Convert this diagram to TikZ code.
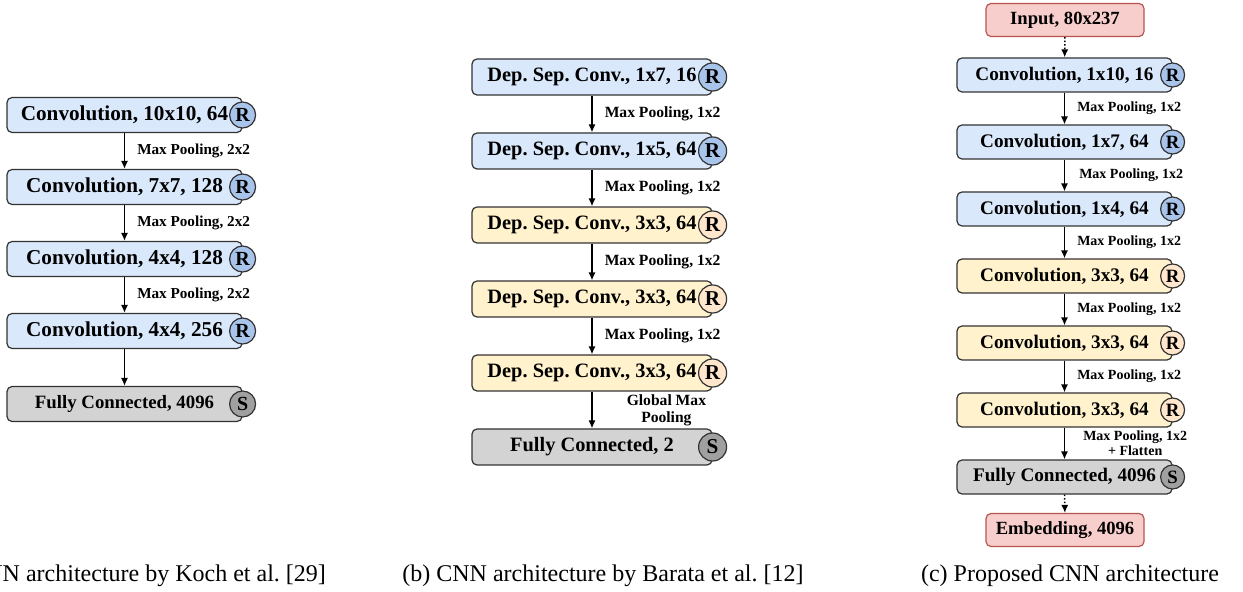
\documentclass[tikz,border=0pt]{standalone}
\usepackage{fontspec}
\setmainfont{Liberation Serif}
\usetikzlibrary{arrows.meta}
\definecolor{convblue}{HTML}{DAE8FC}
\definecolor{relublue}{HTML}{A9C4EB}
\definecolor{dsyellow}{HTML}{FFF2CC}
\definecolor{relucream}{HTML}{FFE6CC}
\definecolor{fcgray}{HTML}{D3D3D3}
\definecolor{softgray}{HTML}{A0A0A0}
\definecolor{iored}{HTML}{F8CECC}
\definecolor{ioline}{HTML}{B85450}

\begin{document}
\frenchspacing
\begin{tikzpicture}[x=0.5pt,y=-0.5pt,
  layer/.style={draw=black!80,line width=0.6pt,rounded corners=2.5pt,minimum height=17.5pt,inner sep=0pt},
  badge/.style={circle,draw=black!80,line width=0.6pt,minimum size=13pt,inner sep=0pt,font=\fontsize{10}{10}\selectfont\bfseries},
  pool/.style={inner sep=0pt},
  flow/.style={line width=0.75pt,-{Latex[length=4pt,width=3.6pt]}}]
\useasboundingbox (0,0) rectangle (1243,592);
% (a) Koch et al.
\begin{scope}[layer/.append style={minimum width=117.5pt,font=\fontsize{10.6}{11}\selectfont\bfseries},
  pool/.append style={font=\fontsize{7.6}{8}\selectfont\bfseries}]
\node[layer,fill=convblue] (a1) at (124.5,115) {Convolution, 10x10, 64\hspace{2pt}};
\node[layer,fill=convblue] (a2) at (124.5,187) {Convolution, 7x7, 128\hspace{8pt}};
\node[layer,fill=convblue] (a3) at (124.5,259) {Convolution, 4x4, 128\hspace{8pt}};
\node[layer,fill=convblue] (a4) at (124.5,331) {Convolution, 4x4, 256\hspace{8pt}};
\node[layer,fill=fcgray,font=\fontsize{9.4}{10}\selectfont\bfseries] (a5) at (124.5,404) {Fully Connected, 4096\hspace{8pt}};
\node[badge,fill=relublue] (a1r) at (a1.east) {R};
\node[badge,fill=relublue] (a2r) at (a2.east) {R};
\node[badge,fill=relublue] (a3r) at (a3.east) {R};
\node[badge,fill=relublue] (a4r) at (a4.east) {R};
\node[badge,fill=softgray] (a5s) at (a5.east) {S};
\draw[flow] (a1) -- (a2) node[pool,midway,right=6pt]{Max Pooling, 2x2};
\draw[flow] (a2) -- (a3) node[pool,midway,right=6pt]{Max Pooling, 2x2};
\draw[flow] (a3) -- (a4) node[pool,midway,right=6pt]{Max Pooling, 2x2};
\draw[flow] (a4) -- (a5);
\node[anchor=east,font=\fontsize{12}{14}\selectfont] (acap) at (333,576) {(a) CNN architecture by Koch et al. [29]};
\end{scope}
% (b) Barata et al.
\begin{scope}[layer/.append style={minimum width=120pt,minimum height=18pt,font=\fontsize{10.2}{11}\selectfont\bfseries},
  badge/.append style={minimum size=14pt,font=\fontsize{10.6}{11}\selectfont\bfseries},
  pool/.append style={font=\fontsize{7.8}{8.5}\selectfont\bfseries}]
\node[layer,fill=convblue] (b1) at (592,77) {Dep. Sep. Conv., 1x7, 16\hspace{5pt}};
\node[layer,fill=convblue] (b2) at (592,151) {Dep. Sep. Conv., 1x5, 64\hspace{5pt}};
\node[layer,fill=dsyellow] (b3) at (592,225) {Dep. Sep. Conv., 3x3, 64\hspace{5pt}};
\node[layer,fill=dsyellow] (b4) at (592,299) {Dep. Sep. Conv., 3x3, 64\hspace{5pt}};
\node[layer,fill=dsyellow] (b5) at (592,373) {Dep. Sep. Conv., 3x3, 64\hspace{5pt}};
\node[layer,fill=fcgray] (b6) at (592,447) {Fully Connected, 2\hspace{8pt}};
\node[badge,fill=relublue] (b1r) at (b1.east) {R};
\node[badge,fill=relublue] (b2r) at (b2.east) {R};
\node[badge,fill=relucream] (b3r) at (b3.east) {R};
\node[badge,fill=relucream] (b4r) at (b4.east) {R};
\node[badge,fill=relucream] (b5r) at (b5.east) {R};
\node[badge,fill=softgray] (b6s) at (b6.east) {S};
\draw[flow] (b1) -- (b2) node[pool,midway,right=6pt]{Max Pooling, 1x2};
\draw[flow] (b2) -- (b3) node[pool,midway,right=6pt]{Max Pooling, 1x2};
\draw[flow] (b3) -- (b4) node[pool,midway,right=6pt]{Max Pooling, 1x2};
\draw[flow] (b4) -- (b5) node[pool,midway,right=6pt]{Max Pooling, 1x2};
\draw[flow] (b5) -- (b6) node[pool,midway,right=17pt,align=center]{Global Max\\Pooling};
\node[font=\fontsize{12}{14}\selectfont] (bcap) at (603,576) {(b) CNN architecture by Barata et al. [12]};
\end{scope}
% (c) proposed
\begin{scope}[layer/.append style={minimum width=107.5pt,minimum height=17pt,font=\fontsize{9.6}{10.5}\selectfont\bfseries},
  badge/.append style={minimum size=12pt,font=\fontsize{9.4}{10}\selectfont\bfseries},
  pool/.append style={font=\fontsize{7}{7.5}\selectfont\bfseries}]
\node[layer,fill=iored,draw=ioline,minimum width=79pt,minimum height=16.5pt,font=\fontsize{9.3}{10}\selectfont\bfseries] (cin) at (1065,20) {Input, 80x237};
\node[layer,fill=convblue] (c1) at (1064.5,75) {Convolution, 1x10, 16\hspace{7pt}};
\node[layer,fill=convblue] (c2) at (1064.5,142) {Convolution, 1x7, 64\hspace{7pt}};
\node[layer,fill=convblue] (c3) at (1064.5,209) {Convolution, 1x4, 64\hspace{7pt}};
\node[layer,fill=dsyellow] (c4) at (1064.5,276) {Convolution, 3x3, 64\hspace{7pt}};
\node[layer,fill=dsyellow] (c5) at (1064.5,343) {Convolution, 3x3, 64\hspace{7pt}};
\node[layer,fill=dsyellow] (c6) at (1064.5,410) {Convolution, 3x3, 64\hspace{7pt}};
\node[layer,fill=fcgray] (c7) at (1064.5,477) {Fully Connected, 4096\hspace{2pt}};
\node[layer,fill=iored,draw=ioline,minimum width=79pt,minimum height=16.5pt,font=\fontsize{9.3}{10}\selectfont\bfseries] (cout) at (1065,530) {Embedding, 4096};
\node[badge,fill=relublue] (c1r) at (c1.east) {R};
\node[badge,fill=relublue] (c2r) at (c2.east) {R};
\node[badge,fill=relublue] (c3r) at (c3.east) {R};
\node[badge,fill=relucream] (c4r) at (c4.east) {R};
\node[badge,fill=relucream] (c5r) at (c5.east) {R};
\node[badge,fill=relucream] (c6r) at (c6.east) {R};
\node[badge,fill=softgray] (c7s) at (c7.east) {S};
\draw[flow,densely dotted] (cin) -- (c1);
\draw[flow] (c1) -- (c2) node[pool,midway,right=6pt]{Max Pooling, 1x2};
\draw[flow] (c2) -- (c3) node[pool,midway,right=7pt]{Max Pooling, 1x2};
\draw[flow] (c3) -- (c4) node[pool,midway,right=6pt]{Max Pooling, 1x2};
\draw[flow] (c4) -- (c5) node[pool,midway,right=6pt]{Max Pooling, 1x2};
\draw[flow] (c5) -- (c6) node[pool,midway,right=6pt]{Max Pooling, 1x2};
\draw[flow] (c6) -- (c7) node[pool,midway,right=9pt,align=center]{Max Pooling, 1x2\\+ Flatten};
\draw[flow,densely dotted] (c7) -- (cout);
\node[font=\fontsize{12}{14}\selectfont] (ccap) at (1070,576) {(c) Proposed CNN architecture};
\end{scope}
\end{tikzpicture}
\end{document}
